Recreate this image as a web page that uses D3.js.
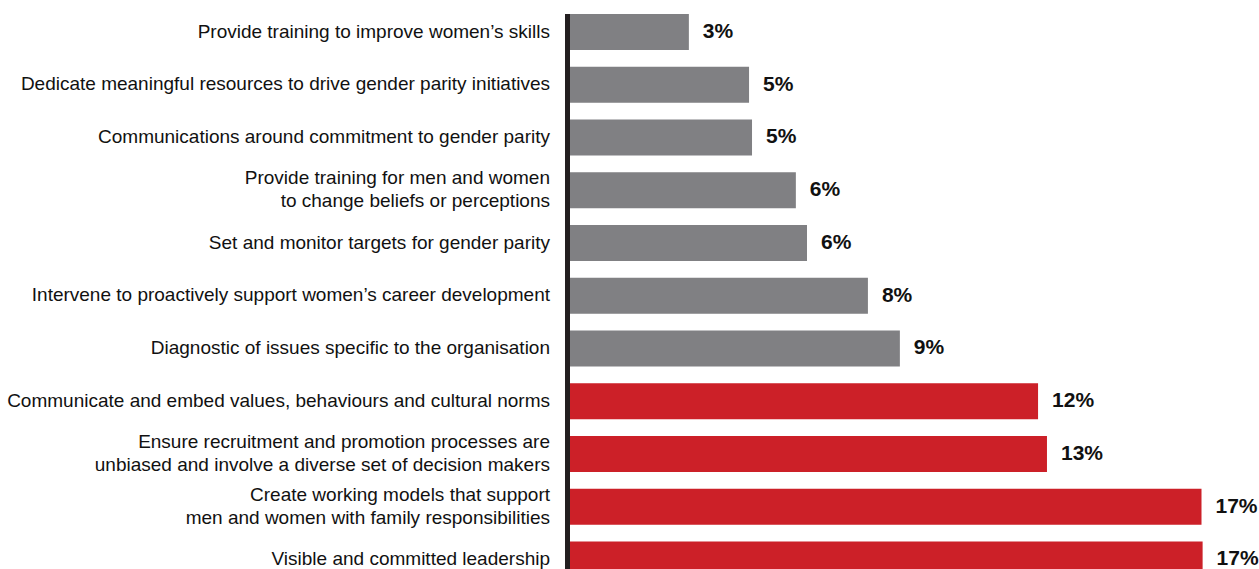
<!DOCTYPE html>
<html><head><meta charset="utf-8">
<script src="https://cdn.jsdelivr.net/npm/d3@7"></script>
<style>
html,body{margin:0;padding:0;background:#fff;overflow:hidden}
svg{display:block}
</style></head>
<body>
<svg id="chart" width="1259" height="569"></svg>
<script>
const categories = [
  "Provide training to improve women’s skills",
  "Dedicate meaningful resources to drive gender parity initiatives",
  "Communications around commitment to gender parity",
  "Provide training for men and women\nto change beliefs or perceptions",
  "Set and monitor targets for gender parity",
  "Intervene to proactively support women’s career development",
  "Diagnostic of issues specific to the organisation",
  "Communicate and embed values, behaviours and cultural norms",
  "Ensure recruitment and promotion processes are\nunbiased and involve a diverse set of decision makers",
  "Create working models that support\nmen and women with family responsibilities",
  "Visible and committed leadership"
];
const values = [3.2, 4.82, 4.9, 6.08, 6.38, 8.02, 8.88, 12.6, 12.84, 17.0, 17.03];
const valueLabels = ["3%","5%","5%","6%","6%","8%","9%","12%","13%","17%","17%"];
const highlighted = [false,false,false,false,false,false,false,true,true,true,true];

const svg = d3.select("#chart");
const x0 = 570;
const x = d3.scaleLinear().domain([0, 17]).range([x0, 1201.5]);
const y = d3.scalePoint().domain(categories).range([32, 32 + 10 * 52.75]);
const barH = 36;

// bars
svg.selectAll("rect.bar").data(categories).join("rect")
  .attr("class","bar")
  .attr("x", x(0))
  .attr("y", d => y(d) - barH/2)
  .attr("width", (d,i) => x(values[i]) - x(0))
  .attr("height", barH)
  .attr("fill", (d,i) => highlighted[i] ? "#cc2028" : "#808083");

// axis line
svg.append("line")
  .attr("x1", x0 - 2.5).attr("x2", x0 - 2.5)
  .attr("y1", y(categories[0]) - barH/2).attr("y2", 569)
  .attr("stroke", "#231f20").attr("stroke-width", 5);

// category labels
const lab = svg.selectAll("text.cat").data(categories).join("text")
  .attr("class","cat")
  .attr("x", 550)
  .attr("text-anchor","end")
  .attr("font-family","Liberation Sans, Arial, sans-serif")
  .attr("font-size", 19)
  .attr("fill","#111");
lab.each(function(d){
  const lines = d.split("\n");
  const t = d3.select(this);
  const lh = 23;
  const start = y(d) - 1 - (lines.length - 1) * lh / 2;
  lines.forEach((ln, k) => {
    t.append("tspan").attr("x", 550).attr("y", start + k * lh).attr("dy","0.35em").text(ln);
  });
});

// value labels
svg.selectAll("text.val").data(categories).join("text")
  .attr("class","val")
  .attr("x", (d,i) => x(values[i]) + 14)
  .attr("y", d => y(d) - 1.5)
  .attr("dy","0.35em")
  .attr("font-family","Liberation Sans, Arial, sans-serif")
  .attr("font-weight","bold")
  .attr("font-size", 21)
  .attr("fill","#111")
  .text((d,i) => valueLabels[i]);
</script>
</body></html>
